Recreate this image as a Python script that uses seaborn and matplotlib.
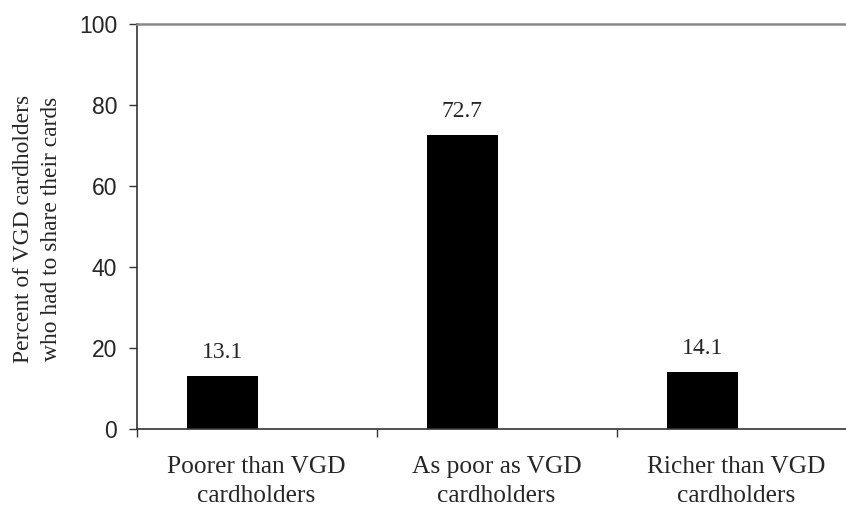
import matplotlib
matplotlib.use("Agg")
import matplotlib.pyplot as plt
import seaborn as sns
import pandas as pd

# Data
categories = ["Poorer than VGD\ncardholders", "As poor as VGD\ncardholders", "Richer than VGD\ncardholders"]
percent_shared = [13.1, 72.7, 14.1]
y_ticks = [0, 20, 40, 60, 80, 100]

df = pd.DataFrame({"group": categories, "percent": percent_shared})

sns.set_theme(style="white")
plt.rcParams["font.family"] = ["Liberation Serif", "DejaVu Serif"]

fig = plt.figure(figsize=(8.46, 5.08), dpi=100)
ax = fig.add_axes([0.1615, 0.1555, 0.851, 0.797])

sns.barplot(data=df, x="group", y="percent", color="black", width=0.296,
            saturation=1, ax=ax)

# bars sit left of the category centre, like the original
for p in ax.patches:
    p.set_x(p.get_x() - 0.143)
    p.set_edgecolor("none")

for p, val in zip(ax.patches, percent_shared):
    ax.annotate(f"{val}", (p.get_x() + p.get_width() / 2, val),
                xytext=(0, 13), textcoords="offset points",
                ha="center", va="baseline", fontsize=17)

ax.set_xlim(-0.5, 2.5)
ax.set_ylim(0, 100)
ax.set_yticks(y_ticks)
ax.set_yticklabels([str(t) for t in y_ticks], family="Liberation Sans", fontsize=16.5)
ax.set_xticks([-0.5, 0.5, 1.5, 2.5], minor=True)
ax.set_xlabel("")
ax.set_xticklabels(categories, fontsize=18.3, linespacing=1.40)

ax.tick_params(axis="y", left=True, length=6, width=1, pad=8, color="#333333")
ax.tick_params(axis="x", which="major", bottom=True, length=0, pad=19.5)
ax.tick_params(axis="x", which="minor", bottom=True, length=5.5, width=1, color="#333333")

ax.set_ylabel("Percent of VGD cardholders\nwho had to share their cards",
              fontsize=16.9, linespacing=1.45)
ax.yaxis.set_label_coords(-0.103, 0.494)

ax.spines["right"].set_visible(False)
ax.spines["top"].set_color("#888888")
ax.spines["top"].set_linewidth(1.8)
ax.spines["left"].set_color("#333333")
ax.spines["left"].set_linewidth(1.2)
ax.spines["bottom"].set_color("#333333")
ax.spines["bottom"].set_linewidth(1.2)

fig.savefig("out.png", dpi=100)
